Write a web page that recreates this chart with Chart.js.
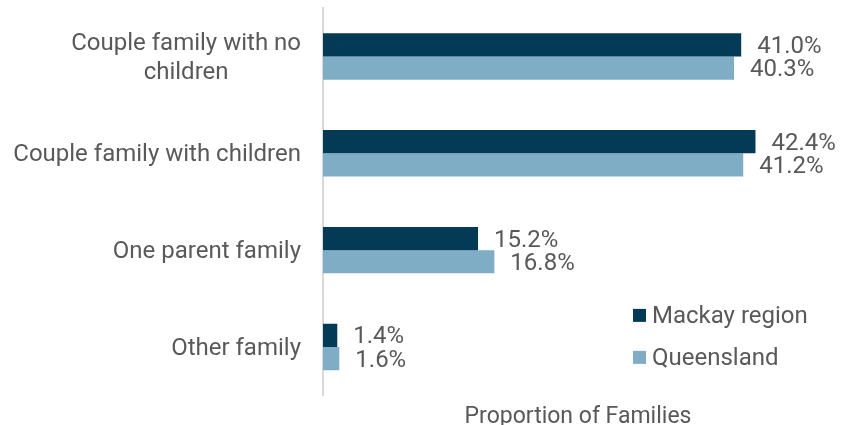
<!DOCTYPE html>
<html>
<head>
<meta charset="utf-8">
<script src="https://cdn.jsdelivr.net/npm/chart.js@4"></script>
<style>
  html, body { margin: 0; padding: 0; background: #fff; }
  #wrap { width: 851px; height: 425px; position: relative; }
</style>
</head>
<body>
<div id="wrap"><canvas id="chart"></canvas></div>
<script>
// family composition, % of families
const categories = [
    ['Couple family with no', 'children'],
    'Couple family with children',
    'One parent family',
    'Other family'
];
const mackay = [41.0, 42.4, 15.2, 1.4];
const queensland = [40.3, 41.2, 16.8, 1.6];
const seriesNames = ['Mackay region', 'Queensland'];
const seriesColors = ['#033a56', '#7fadc6'];

const textColor = '#595959';
const fontFamily = 'Roboto, "Noto Sans", sans-serif';
// 'middle' baseline sits a little high for Roboto, nudge text down
const textNudge = 2;

// category labels: block right-aligned, lines centred within the block
const categoryLabels = {
    id: 'categoryLabels',
    afterDraw(chart) {
        const ctx = chart.ctx;
        const yScale = chart.scales.y;
        const right = chart.chartArea.left - 22;
        const lineH = 29;
        ctx.save();
        ctx.font = '24px ' + fontFamily;
        ctx.fillStyle = textColor;
        ctx.textAlign = 'center';
        ctx.textBaseline = 'middle';
        categories.forEach((cat, i) => {
            const lines = Array.isArray(cat) ? cat : [cat];
            const blockW = Math.max(...lines.map(l => ctx.measureText(l).width));
            const cx = right - blockW / 2;
            const cy = yScale.getPixelForValue(i) + textNudge;
            const y0 = cy - (lines.length - 1) * lineH / 2;
            lines.forEach((l, j) => ctx.fillText(l, cx, y0 + j * lineH));
        });
        ctx.restore();
    }
};

// value labels at the end of each bar
const valueLabels = {
    id: 'valueLabels',
    afterDatasetsDraw(chart) {
        const ctx = chart.ctx;
        ctx.save();
        ctx.font = '24px ' + fontFamily;
        ctx.fillStyle = textColor;
        ctx.textAlign = 'left';
        ctx.textBaseline = 'middle';
        chart.data.datasets.forEach((ds, di) => {
            chart.getDatasetMeta(di).data.forEach((bar, i) => {
                ctx.fillText(ds.data[i].toFixed(1) + '%', bar.x + 16, bar.y + textNudge);
            });
        });
        ctx.restore();
    }
};

// legend inside the plot, lower right
const boxLegend = {
    id: 'boxLegend',
    afterDraw(chart) {
        const ctx = chart.ctx;
        const area = chart.chartArea;
        const x = area.right - 200;
        const y = area.bottom - 80;
        ctx.save();
        ctx.font = '24px ' + fontFamily;
        ctx.textBaseline = 'middle';
        ctx.textAlign = 'left';
        chart.data.datasets.forEach((ds, i) => {
            const cy = y + i * 42;
            ctx.fillStyle = ds.backgroundColor;
            ctx.fillRect(x, cy - 6.5, 13, 13);
            ctx.fillStyle = textColor;
            ctx.fillText(ds.label, x + 19, cy + textNudge);
        });
        ctx.restore();
    }
};

const ctx = document.getElementById('chart').getContext('2d');
const chart = new Chart(ctx, {
    type: 'bar',
    data: {
        labels: categories,
        datasets: [
            { label: seriesNames[0], data: mackay, backgroundColor: seriesColors[0] },
            { label: seriesNames[1], data: queensland, backgroundColor: seriesColors[1] }
        ]
    },
    options: {
        indexAxis: 'y',
        responsive: true,
        maintainAspectRatio: false,
        animation: false,
        categoryPercentage: 0.48,
        barPercentage: 1.0,
        layout: { padding: { top: 8, right: 18, bottom: 0, left: 0 } },
        plugins: {
            legend: { display: false },
            tooltip: { enabled: false }
        },
        scales: {
            x: {
                min: 0,
                max: 50,
                grid: { display: false, drawTicks: false },
                border: { display: false },
                ticks: { display: false },
                title: {
                    display: true,
                    text: 'Proportion of Families',
                    color: textColor,
                    font: { family: fontFamily, size: 23 },
                    padding: { top: 8, bottom: -6 }
                }
            },
            y: {
                grid: { display: false, drawTicks: false },
                border: { display: true, color: '#d9d9d9', width: 2 },
                ticks: { display: false },
                afterFit(scale) { scale.width = 323; }
            }
        }
    },
    plugins: [categoryLabels, valueLabels, boxLegend]
});
</script>
</body>
</html>
